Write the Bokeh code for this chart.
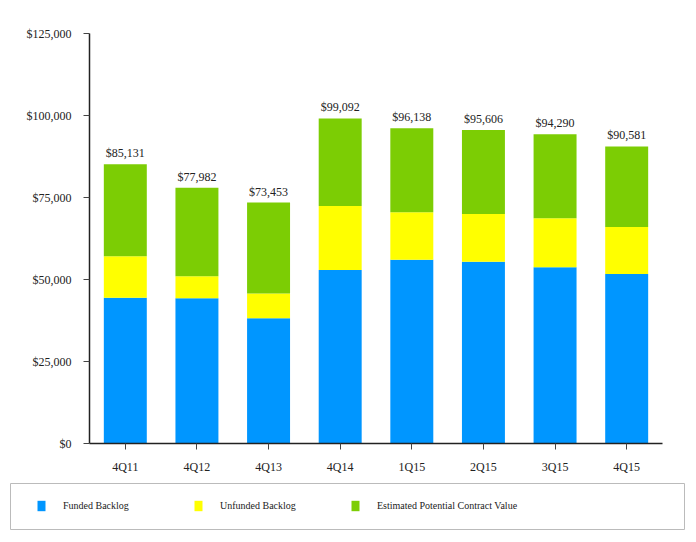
from bokeh.plotting import figure
from bokeh.models import ColumnDataSource, Legend, LegendItem, NumeralTickFormatter, FixedTicker, Range1d
from bokeh.layouts import column
from bokeh.embed import file_html
from bokeh.resources import INLINE

quarters = ["4Q11", "4Q12", "4Q13", "4Q14", "1Q15", "2Q15", "3Q15", "4Q15"]
funded = [44400, 44300, 38200, 52900, 56000, 55400, 53700, 51700]
unfunded = [12700, 6700, 7500, 19500, 14500, 14600, 15000, 14300]
estimated = [28031, 26982, 27753, 26692, 25638, 25606, 25590, 24581]
totals = [85131, 77982, 73453, 99092, 96138, 95606, 94290, 90581]
total_labels = ["$85,131", "$77,982", "$73,453", "$99,092", "$96,138", "$95,606", "$94,290", "$90,581"]
series = ["funded", "unfunded", "estimated"]
series_names = ["Funded Backlog", "Unfunded Backlog", "Estimated Potential Contract Value"]
colors = ["#0096FF", "#FFFF00", "#7CCD04"]
y_ticks = [0, 25000, 50000, 75000, 100000, 125000]

FONT = "Liberation Serif"

src = ColumnDataSource(dict(quarters=quarters, funded=funded, unfunded=unfunded,
                            estimated=estimated, totals=totals, total_labels=total_labels))

p = figure(x_range=quarters, y_range=(0, 125000), width=680, height=483,
           output_backend="svg", toolbar_location=None,
           min_border_left=89, min_border_right=18, min_border_top=33, min_border_bottom=40)
p.vbar_stack(series, x="quarters", width=0.6, color=colors, line_color=None, source=src)
p.text(x="quarters", y="totals", text="total_labels", source=src, text_align="center",
       text_baseline="bottom", y_offset=-4, text_font={"value": FONT}, text_font_size="12px",
       text_color="#222222")

p.outline_line_color = None
p.grid.visible = False
p.yaxis.ticker = FixedTicker(ticks=y_ticks)
p.yaxis.formatter = NumeralTickFormatter(format="$0,0")
for ax in (p.xaxis, p.yaxis):
    ax.axis_line_width = 1.5
    ax.axis_line_color = "#222222"
    ax.major_tick_line_color = "#444444"
    ax.major_tick_in = 0
    ax.major_tick_out = 6
    ax.minor_tick_line_color = None
    ax.major_label_text_font = FONT
    ax.major_label_text_font_size = "12px"
    ax.major_label_text_color = "#222222"
p.yaxis.major_label_standoff = 12
p.xaxis.major_label_standoff = 10

# legend panel: a small figure whose frame is the legend box; the same stacked
# series are drawn there out of view so that the legend swatches come from them
lg = figure(x_range=quarters, y_range=Range1d(500000, 600000), width=675, height=47,
            output_backend="svg", toolbar_location=None, min_border=0,
            x_axis_location=None, y_axis_location=None, margin=(0, 0, 0, 10))
lg.frame_align = False
lg.grid.visible = False
lg.outline_line_color = "#BBBBBB"
lg.outline_line_width = 1
lrs = lg.vbar_stack(series, x="quarters", width=0.6, color=colors, line_color=None, source=src)
items = [LegendItem(label=n, renderers=[r]) for n, r in zip(series_names, lrs)]
leg = Legend(items=items, orientation="horizontal", location=(26, 18), padding=0, margin=0,
             spacing=10, glyph_width=10, glyph_height=13, label_standoff=17, label_width=120,
             label_height=13, label_text_font=FONT, label_text_font_size="10px",
             label_text_color="#222222", border_line_color=None, background_fill_alpha=0)
lg.add_layout(leg, "center")

layout = column(p, lg, spacing=0)
open("out.html", "w").write(file_html(layout, INLINE))
